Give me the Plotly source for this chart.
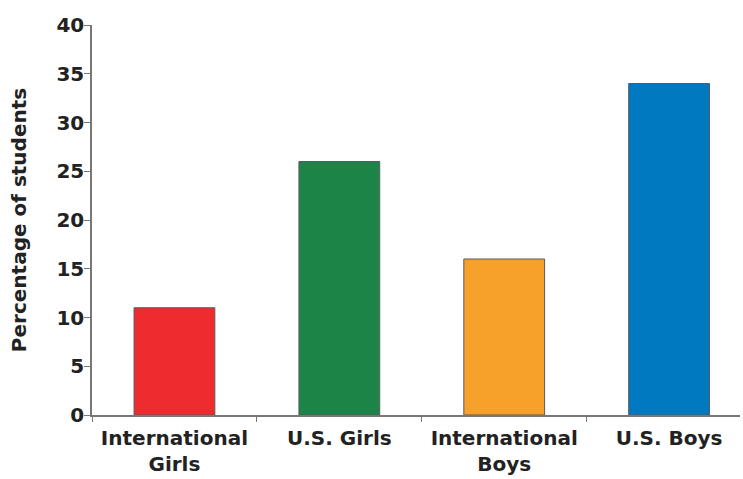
import plotly.graph_objects as go

categories = ["International<br>Girls", "U.S. Girls", "International<br>Boys", "U.S. Boys"]
values = [11, 26, 16, 34]
colors = ["#EE2B2F", "#1C8447", "#F7A12B", "#0079C1"]
y_ticks = [0, 5, 10, 15, 20, 25, 30, 35, 40]

font_family = "DejaVu Sans"

fig = go.Figure(
    go.Bar(
        x=categories,
        y=values,
        width=0.49,
        marker=dict(color=colors, line=dict(color="#5a5a5a", width=1)),
    )
)

fig.update_layout(
    width=743,
    height=479,
    margin=dict(l=92, r=3, t=25, b=64),
    paper_bgcolor="white",
    plot_bgcolor="white",
    showlegend=False,
    font=dict(family=font_family, color="#222222"),
)

fig.update_xaxes(
    type="category",
    range=[-0.5, 3.43],
    showline=True,
    linecolor="#777777",
    linewidth=1.5,
    ticks="outside",
    tickson="boundaries",
    ticklen=5,
    tickcolor="#777777",
    showgrid=False,
    ticklabelstandoff=4,
    tickfont=dict(family=font_family, size=20, color="#222222", weight="bold"),
)

fig.update_yaxes(
    range=[0, 40],
    tickvals=y_ticks,
    showline=True,
    linecolor="#777777",
    linewidth=1.5,
    ticks="outside",
    ticklen=6,
    tickcolor="#777777",
    showgrid=False,
    zeroline=False,
    ticklabelstandoff=-4,
    tickfont=dict(family=font_family, size=20, color="#222222", weight="bold"),
    title=dict(
        text="Percentage of students",
        font=dict(family=font_family, size=20, color="#222222", weight="bold"),
        standoff=24,
    ),
)

fig.write_html(
    "out.html",
    config={"displayModeBar": False},
    post_script="document.body.style.margin='0';document.body.style.padding='0';",
)
